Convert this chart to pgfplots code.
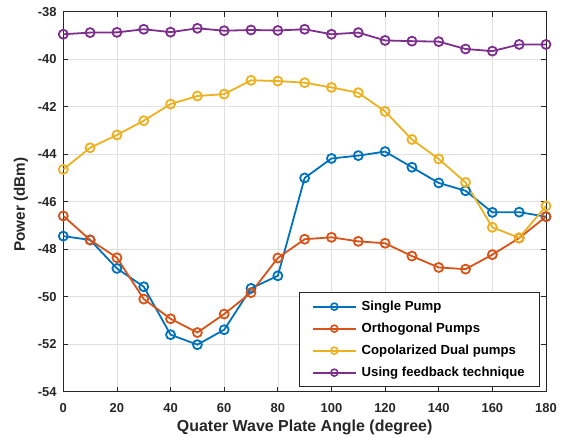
\documentclass[border=0pt]{standalone}
\usepackage{pgfplots}
\pgfplotsset{compat=1.18}
\usepackage{fontspec}
\setmainfont{Liberation Sans}
\definecolor{mblue}{rgb}{0,0.447,0.741}
\definecolor{morange}{rgb}{0.85,0.325,0.098}
\definecolor{myellow}{rgb}{0.929,0.694,0.125}
\definecolor{mpurple}{rgb}{0.494,0.184,0.556}
\definecolor{axgray}{rgb}{0.15,0.15,0.15}
\begin{document}
\begin{tikzpicture}
\path[use as bounding box] (-63.3bp,-46.3bp) rectangle (502.7bp,391.7bp);
\begin{axis}[
  at={(0,0)}, anchor=south west,
  scale only axis,
  width=482.7bp, height=380bp,
  xmin=0, xmax=180, ymin=-54, ymax=-38,
  xtick={0,20,...,180}, ytick={-54,-52,...,-38},
  grid=major,
  major grid style={draw=black!12, line width=0.6bp},
  axis line style={draw=axgray, line width=0.7bp},
  tick style={draw=axgray, line width=0.7bp},
  tick align=inside,
  major tick length=5bp,
  ticklabel style={font=\bfseries\fontsize{13}{15}\selectfont, text=axgray, inner sep=0pt},
  xticklabel style={anchor=base, yshift=-21bp},
  yticklabel style={anchor=east, xshift=-6.6bp},
  /pgf/number format/assume math mode=true,
  xlabel={Quater Wave Plate Angle (degree)},
  ylabel={Power (dBm)},
  xlabel style={font=\bfseries\fontsize{16}{18}\selectfont, text=axgray, at={(axis description cs:0.5,-0.093)}, anchor=center, inner sep=0pt},
  ylabel style={font=\bfseries\fontsize{15.3}{18}\selectfont, text=axgray, at={(axis description cs:-0.0876,0.492)}, anchor=center, inner sep=0pt},
  every axis plot/.append style={line width=1.8bp, mark=o, mark size=4.5bp, mark options={line width=1.8bp}},
  legend style={at={(0.9876,0.0124)}, anchor=south east, font=\bfseries\fontsize{13.2}{15}\selectfont, text=black, draw=axgray, line width=0.7bp, row sep=0bp, inner xsep=13bp, inner ysep=3bp, cells={anchor=west}, nodes={text height=10bp, text depth=3bp, inner ysep=4.5bp},
    /tikz/every odd column/.append style={column sep=3bp}},
  legend image code/.code={\draw[mark=none, line width=1.8bp] (0bp,0bp) -- (43bp,0bp); \draw[mark size=3.5bp, line width=1.6bp, mark options={line width=1.6bp}] plot coordinates {(21.5bp,0bp)};},
]
\addplot[color=mblue] coordinates {
(0,-47.45) (10,-47.61) (20,-48.81) (30,-49.58) (40,-51.60) (50,-52.02) (60,-51.39) (70,-49.65) (80,-49.12) (90,-45.00)
(100,-44.18) (110,-44.06) (120,-43.89) (130,-44.55) (140,-45.21) (150,-45.54) (160,-46.45) (170,-46.44) (180,-46.63)};
\addlegendentry{Single Pump}
\addplot[color=morange] coordinates {
(0,-46.60) (10,-47.61) (20,-48.36) (30,-50.10) (40,-50.93) (50,-51.51) (60,-50.73) (70,-49.83) (80,-48.37) (90,-47.58)
(100,-47.50) (110,-47.67) (120,-47.75) (130,-48.29) (140,-48.77) (150,-48.84) (160,-48.23) (170,-47.53) (180,-46.63)};
\addlegendentry{Orthogonal Pumps}
\addplot[color=myellow] coordinates {
(0,-44.64) (10,-43.73) (20,-43.19) (30,-42.59) (40,-41.89) (50,-41.55) (60,-41.47) (70,-40.89) (80,-40.92) (90,-40.99)
(100,-41.19) (110,-41.41) (120,-42.20) (130,-43.38) (140,-44.20) (150,-45.19) (160,-47.08) (170,-47.52) (180,-46.18)};
\addlegendentry{Copolarized Dual pumps}
\addplot[color=mpurple] coordinates {
(0,-38.95) (10,-38.88) (20,-38.87) (30,-38.74) (40,-38.86) (50,-38.70) (60,-38.80) (70,-38.77) (80,-38.79) (90,-38.74)
(100,-38.95) (110,-38.88) (120,-39.21) (130,-39.24) (140,-39.26) (150,-39.57) (160,-39.66) (170,-39.38) (180,-39.38)};
\addlegendentry{Using feedback technique}
\end{axis}
\end{tikzpicture}
\end{document}
